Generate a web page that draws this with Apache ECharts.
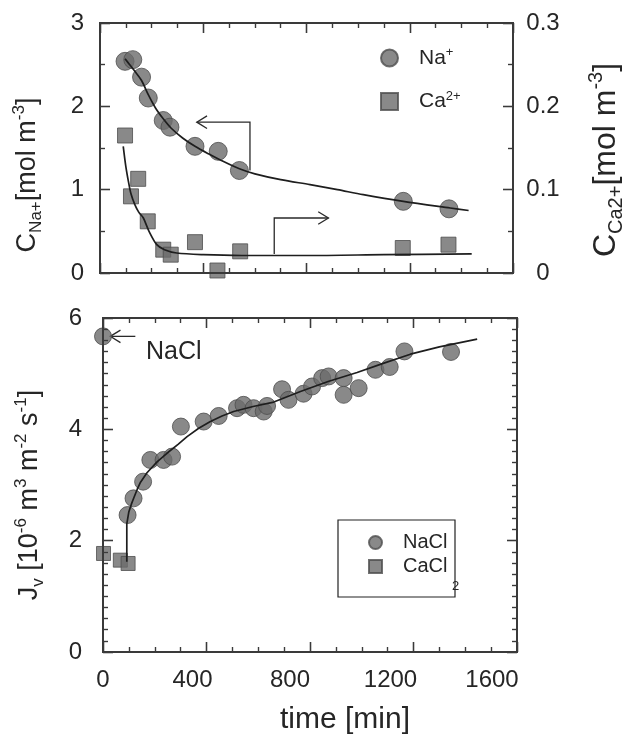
<!DOCTYPE html>
<html>
<head>
<meta charset="utf-8">
<script src="https://cdn.jsdelivr.net/npm/echarts@6/dist/echarts.min.js"></script>
<style>
  html, body { margin: 0; padding: 0; background: #fff; }
  .layer { position: absolute; left: 0; top: 0; width: 624px; height: 735px; }
  #frame { pointer-events: none; }
</style>
</head>
<body>
<div id="chart" class="layer"></div>
<div id="frame" class="layer"></div>
<script>
// ---- upper panel: permeate concentrations ----
const naTime = [97, 127, 161, 187, 245, 271, 368, 458, 540, 1175, 1352];
const naConc = [2.54, 2.56, 2.35, 2.10, 1.83, 1.75, 1.52, 1.46, 1.23, 0.86, 0.77];
const caTime = [97, 120, 148, 185, 245, 274, 368, 455, 543, 1173, 1350];
const caConc = [0.165, 0.092, 0.113, 0.062, 0.028, 0.022, 0.037, 0.003, 0.026, 0.030, 0.034];

const naFitTime = [97, 115, 135, 161, 187, 215, 245, 275, 320, 368, 420, 470, 540, 600, 700, 814, 920, 1020, 1175, 1357, 1428];
const naFitConc = [2.57, 2.50, 2.42, 2.31, 2.14, 1.98, 1.85, 1.74, 1.62, 1.52, 1.43, 1.35, 1.25, 1.19, 1.12, 1.06, 1.00, 0.94, 0.86, 0.78, 0.75];
const caFitTime = [90, 100, 110, 120, 135, 150, 168, 190, 220, 250, 297, 400, 550, 800, 1100, 1440];
const caFitConc = [0.152, 0.128, 0.110, 0.095, 0.082, 0.073, 0.066, 0.050, 0.034, 0.028, 0.024, 0.022, 0.021, 0.021, 0.022, 0.023];

// ---- lower panel: volume flux ----
const naclTime = [0, 95, 118, 155, 183, 234, 267, 301, 389, 447, 518, 543, 582, 621, 634, 692, 717, 775, 808, 847, 872, 930, 930, 988, 1053, 1108, 1165, 1345];
const naclFlux = [5.67, 2.46, 2.76, 3.06, 3.45, 3.45, 3.51, 4.05, 4.14, 4.24, 4.38, 4.44, 4.38, 4.32, 4.42, 4.72, 4.53, 4.64, 4.77, 4.92, 4.95, 4.92, 4.62, 4.74, 5.07, 5.12, 5.40, 5.39];
const caclTime = [2, 67, 97];
const caclFlux = [1.77, 1.65, 1.59];

const fluxFitTime = [92, 92, 100, 110, 120, 132, 145, 170, 210, 247, 290, 325, 370, 415, 460, 505, 580, 660, 763, 870, 982, 1080, 1188, 1300, 1446];
const fluxFitVal = [1.62, 2.30, 2.52, 2.66, 2.78, 2.92, 3.05, 3.22, 3.42, 3.57, 3.73, 3.87, 4.02, 4.14, 4.24, 4.32, 4.41, 4.49, 4.68, 4.86, 5.02, 5.18, 5.35, 5.48, 5.62];

// annotation arrows (polyline, head at the last point)
const naArrow = [[581, 1.23], [581, 1.81], [375, 1.81]];
const caArrow = [[675, 0.0228], [675, 0.066], [885, 0.066]];
const naclArrow = [[125, 5.67], [28, 5.67]];

// axis tick labels
const timeTicks = [0, 400, 800, 1200, 1600];

const FONT = '"Liberation Sans", Arial, Helvetica, sans-serif';
const INK = '#262626';
const AXIS = '#3a3a3a';
const MARK = '#6c6c6c';
const MARK_EDGE = '#4d4d4d';

const zip = (a, b) => a.map((v, i) => [v, b[i]]);

// shared plot-area geometry
const grids = [
  { left: 100, top: 23, width: 413, height: 250, show: false },
  { left: 103, top: 318, width: 414, height: 334, show: false }
];

function xAxis(gridIndex, position, withLabels) {
  const rich = {};
  // labels sit slightly left of their ticks
  const shift = { 0: 0, 400: 28, 800: 40, 1200: 46, 1600: 50 };
  timeTicks.forEach(t => {
    rich['t' + t] = { fontFamily: FONT, fontSize: 24, color: INK, padding: [0, shift[t], 0, 0] };
  });
  return {
    type: 'value', gridIndex, position, min: 0, max: 1600, interval: 400,
    axisLine: { show: true, onZero: false, lineStyle: { color: AXIS, width: 2 } },
    axisTick: { show: true, inside: true, length: 10, lineStyle: { color: AXIS, width: 1.3 } },
    minorTick: { show: true, splitNumber: 4, length: 5, lineStyle: { color: AXIS, width: 1.2 } },
    splitLine: { show: false },
    axisLabel: withLabels
      ? { show: true, margin: 16, formatter: v => '{t' + v + '|' + v + '}', rich }
      : { show: false }
  };
}

function yAxis(gridIndex, position, min, max, interval, minorSplit, labels) {
  return {
    type: 'value', gridIndex, position, min, max, interval,
    axisLine: { show: true, onZero: false, lineStyle: { color: AXIS, width: 2 } },
    axisTick: { show: true, inside: true, length: 10, lineStyle: { color: AXIS, width: 1.3 } },
    minorTick: { show: true, splitNumber: minorSplit, length: 5, lineStyle: { color: AXIS, width: 1.2 } },
    splitLine: { show: false },
    axisLabel: labels
  };
}

function xAxes(withLabels) {
  return [
    xAxis(0, 'bottom', false),
    xAxis(0, 'top', false),
    xAxis(1, 'bottom', withLabels),
    xAxis(1, 'top', false)
  ];
}

function yAxes(withLabels) {
  const lab = extra => (withLabels ? Object.assign({ show: true, fontSize: 24, color: INK, fontFamily: FONT }, extra) : { show: false });
  return [
    yAxis(0, 'left', 0, 3, 1, 2, lab({ margin: 16 })),
    yAxis(0, 'right', 0, 0.3, 0.1, 2, lab({ margin: 30, align: 'center', formatter: v => (v === 0 ? '0' : v.toFixed(1)) })),
    yAxis(1, 'left', 0, 6, 2, 10, lab({ margin: 21 })),
    yAxis(1, 'right', 0, 6, 2, 10, { show: false })
  ];
}

function arrowSeries(points, xAxisIndex, yAxisIndex) {
  return {
    type: 'custom', xAxisIndex, yAxisIndex, silent: true,
    data: [points[0]],
    renderItem: (params, api) => {
      const pts = points.map(p => api.coord(p));
      const tip = pts[pts.length - 1];
      const prev = pts[pts.length - 2];
      const ang = Math.atan2(tip[1] - prev[1], tip[0] - prev[0]);
      const L = 12, spread = 0.55;
      const h1 = [tip[0] - L * Math.cos(ang - spread), tip[1] - L * Math.sin(ang - spread)];
      const h2 = [tip[0] - L * Math.cos(ang + spread), tip[1] - L * Math.sin(ang + spread)];
      return {
        type: 'group',
        children: [
          { type: 'polyline', shape: { points: pts }, style: { stroke: '#2a2a2a', lineWidth: 1.3, fill: null } },
          { type: 'polyline', shape: { points: [h1, tip, h2] }, style: { stroke: '#2a2a2a', lineWidth: 1.3, fill: null } }
        ]
      };
    }
  };
}

const markStyle = { color: MARK, borderColor: MARK_EDGE, borderWidth: 1 };
const fitStyle = { color: '#1e1e1e', width: 1.7 };

const option = {
  animation: false,
  backgroundColor: '#ffffff',
  textStyle: { fontFamily: FONT },
  grid: grids,
  xAxis: xAxes(true),
  yAxis: yAxes(true),
  legend: [
    {
      data: ['Na+', 'Ca2+'], orient: 'vertical', left: 380, top: 46,
      itemWidth: 17, itemHeight: 17, itemGap: 21, padding: 0,
      formatter: n => (n === 'Na+' ? '{m|Na}{p|+}' : '{m|Ca}{p|2+}'),
      textStyle: {
        padding: [0, 0, 0, 16],
        rich: {
          m: { fontFamily: FONT, fontSize: 21, color: INK, lineHeight: 24 },
          p: { fontFamily: FONT, fontSize: 13, color: INK, verticalAlign: 'top', lineHeight: 24 }
        }
      }
    },
    {
      data: ['NaCl', 'CaCl2'], orient: 'vertical', left: 338, top: 531,
      itemWidth: 13, itemHeight: 13, itemGap: 1,
      padding: [0, 0, 0, 30],
      formatter: n => (n === 'NaCl' ? 'NaCl' : 'CaCl'),
      textStyle: { fontFamily: FONT, fontSize: 20, color: INK, lineHeight: 23, padding: [0, 0, 0, 16] }
    }
  ],
  series: [
    { name: 'Na fit', type: 'line', xAxisIndex: 0, yAxisIndex: 0, data: zip(naFitTime, naFitConc),
      showSymbol: false, smooth: 0.3, lineStyle: fitStyle, silent: true },
    { name: 'Ca fit', type: 'line', xAxisIndex: 0, yAxisIndex: 1, data: zip(caFitTime, caFitConc),
      showSymbol: false, smooth: 0.3, lineStyle: fitStyle, silent: true },
    { name: 'Flux fit', type: 'line', xAxisIndex: 2, yAxisIndex: 2, data: zip(fluxFitTime, fluxFitVal),
      showSymbol: false, lineStyle: fitStyle, silent: true },

    { name: 'Na+', type: 'scatter', xAxisIndex: 0, yAxisIndex: 0, data: zip(naTime, naConc),
      symbol: 'circle', symbolSize: 18, itemStyle: markStyle, clip: false },
    { name: 'Ca2+', type: 'scatter', xAxisIndex: 0, yAxisIndex: 1, data: zip(caTime, caConc),
      symbol: 'rect', symbolSize: 15, itemStyle: markStyle, clip: false },
    { name: 'NaCl', type: 'scatter', xAxisIndex: 2, yAxisIndex: 2, data: zip(naclTime, naclFlux),
      symbol: 'circle', symbolSize: 17, itemStyle: markStyle, clip: false },
    { name: 'CaCl2', type: 'scatter', xAxisIndex: 2, yAxisIndex: 2, data: zip(caclTime, caclFlux),
      symbol: 'rect', symbolSize: 14, itemStyle: markStyle, clip: false },

    arrowSeries(naArrow, 0, 0),
    arrowSeries(caArrow, 0, 1),
    arrowSeries(naclArrow, 2, 2)
  ],
  graphic: [
    {
      type: 'text', x: 28, y: 175, rotation: Math.PI / 2,
      style: {
        text: '{m|C}{s|Na+}{m|[mol m}{p|-3}{m|]}', align: 'center', verticalAlign: 'middle',
        rich: {
          m: { fontFamily: FONT, fontSize: 27, fill: INK, lineHeight: 34 },
          s: { fontFamily: FONT, fontSize: 17, fill: INK, verticalAlign: 'bottom', lineHeight: 34 },
          p: { fontFamily: FONT, fontSize: 17, fill: INK, verticalAlign: 'top', lineHeight: 34 }
        }
      }
    },
    {
      type: 'text', x: 606, y: 160, rotation: Math.PI / 2,
      style: {
        text: '{m|C}{s|Ca2+}{m|[mol m}{p|-3}{m|]}', align: 'center', verticalAlign: 'middle',
        rich: {
          m: { fontFamily: FONT, fontSize: 32, fill: INK, lineHeight: 40 },
          s: { fontFamily: FONT, fontSize: 20, fill: INK, verticalAlign: 'bottom', lineHeight: 40 },
          p: { fontFamily: FONT, fontSize: 20, fill: INK, verticalAlign: 'top', lineHeight: 40 }
        }
      }
    },
    {
      type: 'text', x: 30, y: 495, rotation: Math.PI / 2,
      style: {
        text: '{m|J}{s|v}{m| [10}{p|-6}{m| m}{p|3}{m| m}{p|-2}{m| s}{p|-1}{m|]}', align: 'center', verticalAlign: 'middle',
        rich: {
          m: { fontFamily: FONT, fontSize: 27, fill: INK, lineHeight: 34 },
          s: { fontFamily: FONT, fontSize: 17, fill: INK, verticalAlign: 'bottom', lineHeight: 34 },
          p: { fontFamily: FONT, fontSize: 17, fill: INK, verticalAlign: 'top', lineHeight: 34 }
        }
      }
    },
    {
      type: 'text', x: 345, y: 720,
      style: { text: 'time [min]', font: '30px ' + FONT, fill: INK, align: 'center', verticalAlign: 'middle' }
    },
    {
      type: 'text', x: 146, y: 352,
      style: { text: 'NaCl', font: '25px ' + FONT, fill: INK, align: 'left', verticalAlign: 'middle' }
    },
    // frame of the lower legend and the subscript of CaCl2
    {
      type: 'rect', shape: { x: 338, y: 520, width: 117, height: 77 },
      style: { stroke: '#222', lineWidth: 1.2, fill: null }, silent: true
    },
    {
      type: 'text', x: 452, y: 586,
      style: { text: '2', font: '13px ' + FONT, fill: INK, align: 'left', verticalAlign: 'middle' }
    }
  ]
};

const chart = echarts.init(document.getElementById('chart'));
chart.setOption(option);

// Transparent frame layer on top: same grids and scales, draws the box and its tick marks.
const frameOption = {
  animation: false,
  backgroundColor: 'transparent',
  grid: grids,
  xAxis: xAxes(false),
  yAxis: yAxes(false),
  series: [
    { type: 'scatter', xAxisIndex: 0, yAxisIndex: 0, data: [] },
    { type: 'scatter', xAxisIndex: 1, yAxisIndex: 1, data: [] },
    { type: 'scatter', xAxisIndex: 2, yAxisIndex: 2, data: [] },
    { type: 'scatter', xAxisIndex: 3, yAxisIndex: 3, data: [] }
  ]
};
const frame = echarts.init(document.getElementById('frame'));
frame.setOption(frameOption);
</script>
</body>
</html>
